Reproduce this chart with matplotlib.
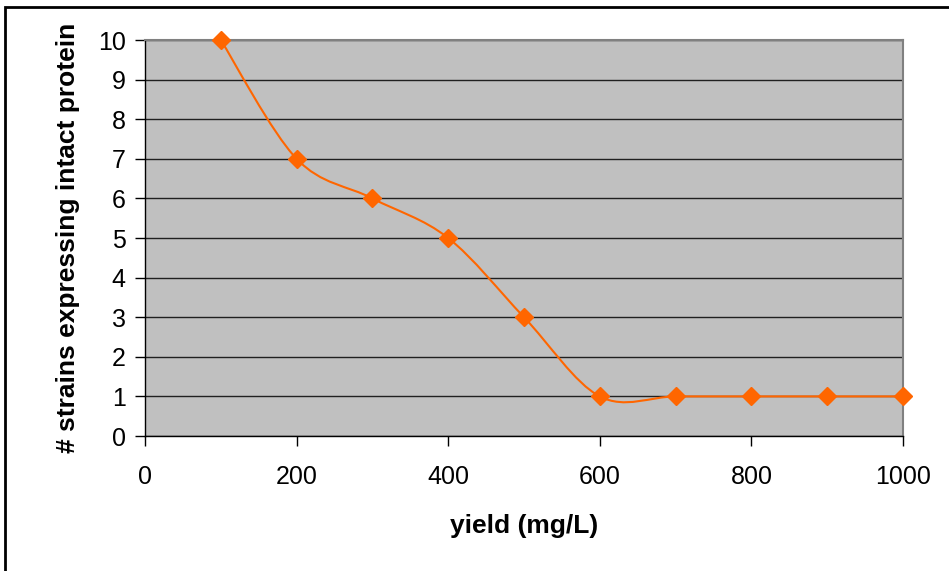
import numpy as np
import matplotlib.pyplot as plt
from matplotlib.path import Path
from matplotlib.patches import PathPatch, Rectangle

plt.rcParams['font.family'] = ['Liberation Sans', 'DejaVu Sans']

# data
yield_mgL = [100, 200, 300, 400, 500, 600, 700, 800, 900, 1000]
n_strains = [10, 7, 6, 5, 3, 1, 1, 1, 1, 1]

x_ticks = [0, 200, 400, 600, 800, 1000]
y_ticks = list(range(0, 11))

orange = '#FF6600'

fig = plt.figure(figsize=(9.49, 5.71), dpi=100)
ax = fig.add_axes([145 / 949, 1 - 436 / 571, 758 / 949, 396 / 571])
ax.set_facecolor('#C0C0C0')

# Excel-style smoothed line: Catmull-Rom segments as cubic Bezier curves
pts = np.column_stack([yield_mgL, n_strains]).astype(float)
ext = np.vstack([pts[0], pts, pts[-1]])
verts = [tuple(pts[0])]
codes = [Path.MOVETO]
for i in range(1, len(ext) - 2):
    p0, p1, p2, p3 = ext[i - 1], ext[i], ext[i + 1], ext[i + 2]
    c1 = p1 + (p2 - p0) / 6
    c2 = p2 - (p3 - p1) / 6
    verts += [tuple(c1), tuple(c2), tuple(p2)]
    codes += [Path.CURVE4] * 3
ax.add_patch(PathPatch(Path(verts, codes), facecolor='none', edgecolor=orange,
                       lw=1.5, zorder=3))
ax.plot(yield_mgL, n_strains, linestyle='none', marker='D', ms=9,
        color=orange, mec=orange, zorder=4, clip_on=False)

ax.set_xlim(0, 1000)
ax.set_ylim(0, 10)
ax.set_xticks(x_ticks)
ax.set_yticks(y_ticks)
ax.yaxis.grid(True, color='#202020', lw=1.0)
ax.set_axisbelow(True)

for s in ['top', 'right']:
    ax.spines[s].set_color('#808080')
    ax.spines[s].set_linewidth(1.5)
for s in ['left', 'bottom']:
    ax.spines[s].set_color('black')
    ax.spines[s].set_linewidth(1.0)

ax.tick_params(axis='both', direction='out', length=7, width=1, labelsize=18,
               colors='black')
ax.tick_params(axis='x', pad=14)
ax.tick_params(axis='y', pad=7)

ax.set_xlabel('yield (mg/L)', fontsize=19, fontweight='bold', labelpad=18)
ax.set_ylabel('# strains expressing intact protein', fontsize=19,
              fontweight='bold', labelpad=13)

# outer chart border
fig.patches.append(Rectangle((5 / 949, -0.1), 1.2, 1.1 - 7 / 571,
                             transform=fig.transFigure, fill=False,
                             edgecolor='black', lw=2))

fig.savefig('out.png', dpi=100)
